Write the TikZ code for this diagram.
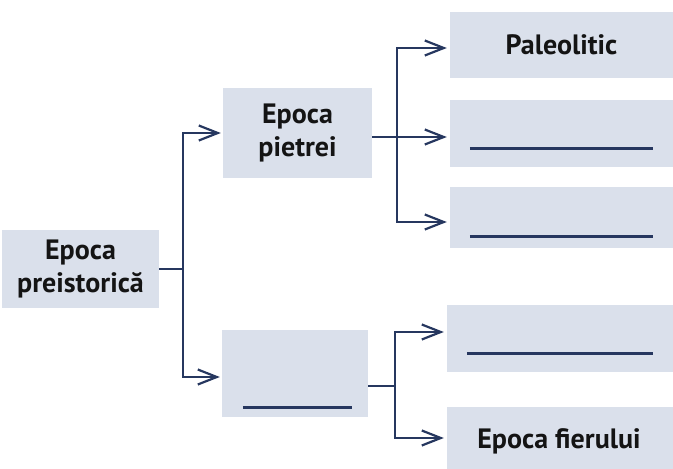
\documentclass[tikz,border=0pt]{standalone}
\usepackage{fontspec}
\setmainfont{PT Sans}
\usetikzlibrary{arrows.meta,calc}
\definecolor{boxfill}{RGB}{218,224,235}
\definecolor{navy}{RGB}{38,55,95}
\definecolor{txt}{RGB}{20,20,20}
\tikzset{
  boxtext/.style={font=\fontsize{28}{33}\selectfont\bfseries, text=txt},
  box/.style={fill=boxfill, draw=none, inner sep=0pt, align=center, boxtext},
  conn/.style={draw=navy, line width=2.2pt, -{Straight Barb[length=19pt,width=15pt,line width=2.2pt]}},
  plain/.style={draw=navy, line width=2.2pt},
  blank/.style={draw=navy, line width=2.2pt}
}
\begin{document}
\begin{tikzpicture}[x=1pt,y=-1pt]
\useasboundingbox (0,0) rectangle (673,469);
% boxes
\node[box, minimum width=157pt, minimum height=78pt] (root) at (80.5,269) {Epoca\\preistorică};
\node[box, minimum width=149pt, minimum height=90pt] (pietrei) at (297.5,133) {Epoca\\pietrei};
\node[box, minimum width=146pt, minimum height=87pt] (lower) at (295,373.5) {};
\node[box, minimum width=223pt, minimum height=66pt] (paleo) at (561.5,45) {Paleolitic};
\node[box, minimum width=223pt, minimum height=67pt] (b2) at (561.5,133.5) {};
\node[box, minimum width=223pt, minimum height=61pt] (b3) at (561.5,217.5) {};
\node[box, minimum width=226pt, minimum height=67pt] (b4) at (560,338.5) {};
\node[box, minimum width=226pt, minimum height=62pt] (fier) at (560,438) {};
\node[boxtext] (fiertext) at (559,441) {Epoca fierului};
% blank lines
\draw[blank] ($(b2.west)+(20,15)$) -- ($(b2.east)+(-20,15)$);
\draw[blank] ($(b3.west)+(20,19)$) -- ($(b3.east)+(-20,19)$);
\draw[blank] ($(b4.west)+(20,15)$) -- ($(b4.east)+(-20,15)$);
\draw[blank] ($(lower.west)+(21,34)$) -- ($(lower.east)+(-16,34)$);
% branch coordinates
\coordinate (t1) at (183,269);
\coordinate (t2) at (397,137);
\coordinate (t3) at (395,386);
% connectors
\draw[plain] (root.east) -- (t1);
\draw[conn] (t1) |- ($(pietrei.west)+(-2,0)$);
\draw[conn] (t1) |- ($(lower.west)+(-2,3.5)$);
\draw[conn] ($(pietrei.east)+(0,4)$) -- ($(b2.west)+(-3,3.5)$);
\draw[conn] (t2) |- ($(paleo.west)+(-3,3)$);
\draw[conn] (t2) |- ($(b3.west)+(-3,4.5)$);
\draw[plain] ($(lower.east)+(0,12.5)$) -- (t3);
\draw[conn] (t3) |- ($(b4.west)+(-3,-6.5)$);
\draw[conn] (t3) |- ($(fier.west)+(-3,0)$);
\end{tikzpicture}
\end{document}
